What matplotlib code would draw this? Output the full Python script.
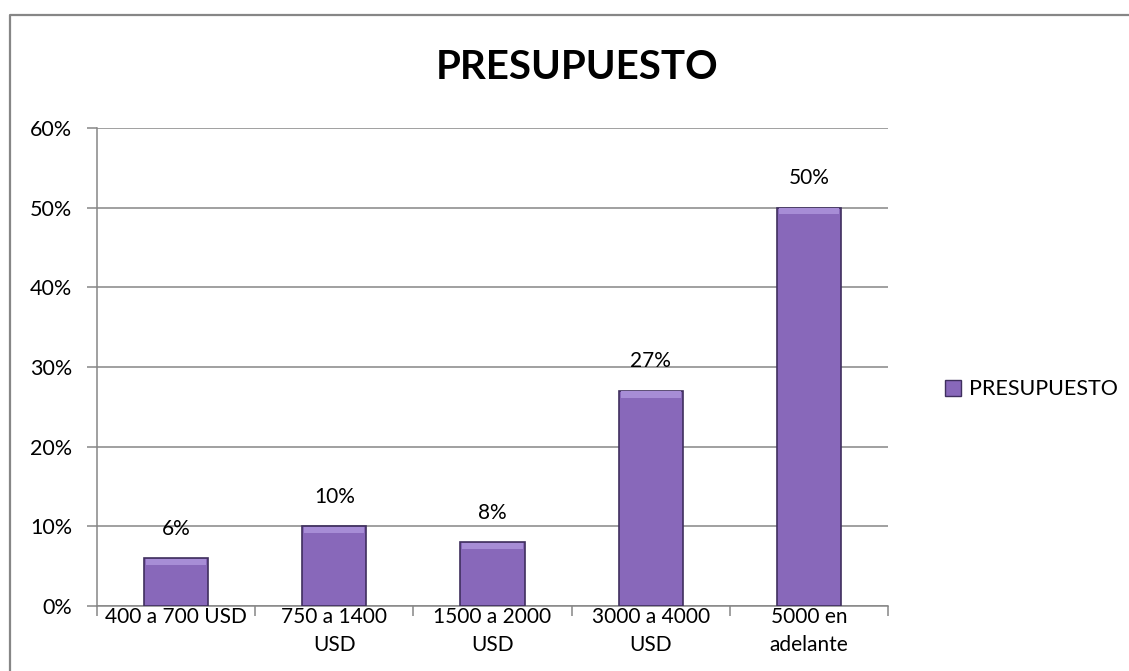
import matplotlib
matplotlib.use('Agg')
import matplotlib.pyplot as plt
from matplotlib.lines import Line2D
from matplotlib.ticker import MultipleLocator, FuncFormatter

# data
CATEGORIES = ['400 a 700 USD', '750 a 1400\nUSD', '1500 a 2000\nUSD', '3000 a 4000\nUSD', '5000 en\nadelante']
VALUES     = [6, 10, 8, 27, 50]
SERIES     = 'PRESUPUESTO'
TITLE      = 'PRESUPUESTO'

plt.rcParams['font.family'] = ['Lato', 'DejaVu Sans']

BAR   = '#8868BA'
EDGE  = '#3F2F5E'
BEVEL = '#A78DD6'
GRID  = '#868686'

fig = plt.figure(figsize=(11.29, 6.71), dpi=100)
ax = fig.add_axes([0.0859, 0.0969, 0.7006, 0.7123])

x = range(len(CATEGORIES))
bars = ax.bar(x, VALUES, width=0.405, color=BAR, edgecolor=EDGE, linewidth=1.2, zorder=3)
# lighter bevel on top of each bar
for b in bars:
    ax.bar(b.get_x() + b.get_width() / 2, 0.8, bottom=b.get_height() - 0.85,
           width=b.get_width() * 0.94, color=BEVEL, linewidth=0, zorder=4)

for xi, v in zip(x, VALUES):
    ax.annotate(f'{v}%', (xi, v), xytext=(0, 14), textcoords='offset points',
                ha='center', va='bottom', fontsize=15)

ax.set_xlim(-0.5, len(CATEGORIES) - 0.5)
ax.set_ylim(0, 60)
ax.yaxis.set_major_locator(MultipleLocator(10))
ax.yaxis.set_major_formatter(FuncFormatter(lambda v, p: f'{v:.0f}%'))
ax.grid(axis='y', color=GRID, linewidth=1.1, zorder=0)

ax.set_xticks(list(x))
ax.set_xticklabels(CATEGORIES, fontsize=15, linespacing=1.5)
ax.set_xticks([i - 0.5 for i in range(len(CATEGORIES) + 1)], minor=True)
ax.tick_params(axis='x', which='major', length=0, pad=1)
ax.tick_params(axis='x', which='minor', length=7, color=GRID, width=1.1)
ax.tick_params(axis='y', length=7, color=GRID, width=1.1, labelsize=15.5, pad=11)

for side in ['top', 'right']:
    ax.spines[side].set_visible(False)
for side in ['left', 'bottom']:
    ax.spines[side].set_color(GRID)
    ax.spines[side].set_linewidth(1.1)

fig.text(0.511, 0.899, TITLE, ha='center', va='center', fontsize=29, fontweight='bold')

handle = Line2D([], [], marker='s', linestyle='none', markersize=11,
                markerfacecolor=BAR, markeredgecolor=EDGE)
fig.legend([handle], [SERIES], loc='center left', bbox_to_anchor=(0.817, 0.42),
           frameon=False, fontsize=15.5, handletextpad=0.25, handlelength=1.0)

# chart frame (left and top edges)
fig.add_artist(Line2D([0.0085, 0.0085, 1.0], [0.0, 0.977, 0.977],
                      transform=fig.transFigure, color=GRID, linewidth=1.6))

fig.savefig('out.png', dpi=100)
